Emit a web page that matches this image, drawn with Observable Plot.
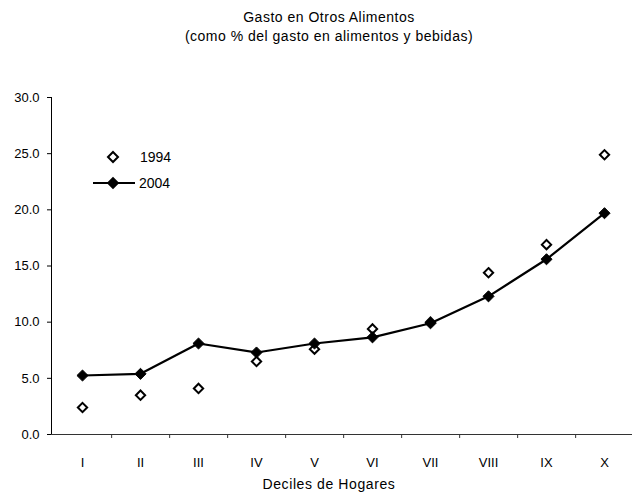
<!DOCTYPE html>
<html>
<head>
<meta charset="utf-8">
<script src="https://cdn.jsdelivr.net/npm/d3@7"></script>
<script src="https://cdn.jsdelivr.net/npm/@observablehq/plot@0.6"></script>
<style>
  body { margin: 0; background: #fff; font-family: "Liberation Sans", Arial, sans-serif; color: #000; }
  #wrap { position: relative; width: 632px; height: 494px; overflow: hidden; }
  #title { height: 48px; box-sizing: border-box; padding-top: 8px; padding-left: 26px; text-align: center; font-size: 14px; line-height: 19px; letter-spacing: 0.5px; }
  #caption { box-sizing: border-box; padding-top: 4px; padding-left: 26px; text-align: center; font-size: 14px; line-height: 16px; letter-spacing: 0.6px; }
  #legend { position: absolute; left: 0; top: 0; }
  svg { display: block; }
</style>
</head>
<body>
<div id="wrap">
  <div id="title">Gasto en Otros Alimentos<br>(como % del gasto en alimentos y bebidas)</div>
  <div id="chart"></div>
  <div id="caption">Deciles de Hogares</div>
  <div id="legend"></div>
</div>
<script>
const deciles = ["I", "II", "III", "IV", "V", "VI", "VII", "VIII", "IX", "X"];
const values1994 = [2.4, 3.5, 4.1, 6.5, 7.6, 9.4, 10.0, 14.4, 16.9, 24.9];
const values2004 = [5.25, 5.4, 8.1, 7.3, 8.1, 8.65, 9.9, 12.3, 15.6, 19.7];
const yTicks = [0, 5, 10, 15, 20, 25, 30];
const seriesNames = ["1994", "2004"];

const d94 = deciles.map((d, i) => ({decil: d, value: values1994[i]}));
const d04 = deciles.map((d, i) => ({decil: d, value: values2004[i]}));

const W = 632, H = 424, ML = 51, MR = -2, MT = 49, MB = 38;
const halfStep = (W - ML - MR) / deciles.length / 2;

const chart = Plot.plot({
  width: W,
  height: H,
  marginLeft: ML,
  marginRight: MR,
  marginTop: MT,
  marginBottom: MB,
  style: { fontFamily: "Liberation Sans, Arial, sans-serif", fontSize: "13px", color: "#000", background: "#fff" },
  x: { type: "band", domain: deciles, padding: 0, label: null, tickSize: 0, tickPadding: 23 },
  y: { domain: [0, 30], ticks: yTicks, tickFormat: d => d.toFixed(1), label: null, tickSize: 4, tickPadding: 8, line: true },
  marks: [
    Plot.ruleY([0], { stroke: "#333", strokeWidth: 1 }),
    Plot.ruleX(deciles.slice(0, -1), { x: d => d, y1: 0, y2: 0, insetBottom: -4, dx: halfStep, stroke: "#333" }),
    Plot.dot(d94, { x: "decil", y: "value", symbol: "diamond2", r: 4.2, stroke: "#000", strokeWidth: 2, fill: "#fff" }),
    Plot.line(d04, { x: "decil", y: "value", stroke: "#000", strokeWidth: 2.2 }),
    Plot.dot(d04, { x: "decil", y: "value", symbol: "diamond2", r: 5, fill: "#000", stroke: "#000", strokeWidth: 1 })
  ]
});
document.getElementById("chart").appendChild(chart);

// Legend (inside the plot area, as in the original)
const leg = d3.select("#legend").append("svg").attr("width", 200).attr("height", 200);
const dia = d3.symbol(d3.symbolDiamond2, 64);
const g1 = leg.append("g");
g1.append("path").attr("d", dia()).attr("transform", "translate(113,157)").attr("fill", "#fff").attr("stroke", "#000").attr("stroke-width", 2);
g1.append("text").attr("x", 140).attr("y", 157).attr("dy", "0.35em").attr("font-size", 14).attr("font-family", "Liberation Sans, Arial, sans-serif").text(seriesNames[0]);
const g2 = leg.append("g");
g2.append("line").attr("x1", 93).attr("x2", 135).attr("y1", 183).attr("y2", 183).attr("stroke", "#000").attr("stroke-width", 2.2);
g2.append("path").attr("d", d3.symbol(d3.symbolDiamond2, 100)()).attr("transform", "translate(113,183)").attr("fill", "#000");
g2.append("text").attr("x", 139).attr("y", 183).attr("dy", "0.35em").attr("font-size", 14).attr("font-family", "Liberation Sans, Arial, sans-serif").text(seriesNames[1]);
</script>
</body>
</html>
